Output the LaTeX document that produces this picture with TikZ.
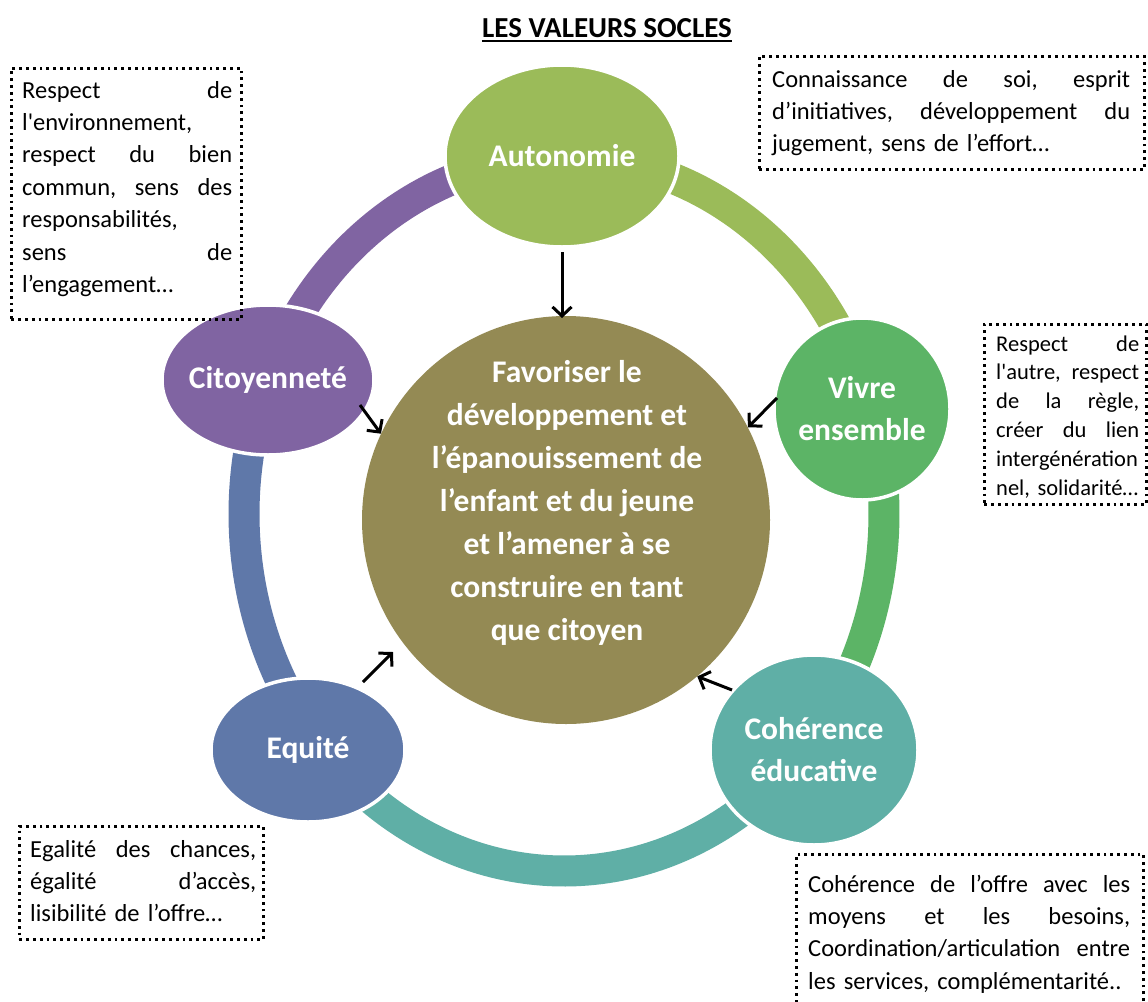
\documentclass[tikz,border=0pt]{standalone}
\usepackage{fontspec}
\setmainfont{Carlito}
\usetikzlibrary{shapes.geometric,arrows.meta,calc}
\definecolor{autoC}{HTML}{9BBB59}
\definecolor{vivC}{HTML}{5CB466}
\definecolor{cohC}{HTML}{5FAFA6}
\definecolor{equC}{HTML}{5F78A9}
\definecolor{citC}{HTML}{8064A2}
\definecolor{cenC}{HTML}{948A54}
\newcommand\jline[2]{\leavevmode\hbox to #1{#2}}
\begin{document}
\begin{tikzpicture}[x=1pt,y=1pt,
  ringseg/.style={line width=31pt},
  sat/.style={ellipse, draw=white, line width=3.5pt, inner sep=0pt},
  satlabel/.style={text=white, font=\fontsize{31.5}{42}\selectfont\bfseries, align=center, inner sep=0pt},
  infobox/.style={draw=black, line width=2.8pt, dash pattern=on 2.8pt off 4pt, rectangle, inner sep=0pt},
  boxtext/.style={font=\fontsize{24.5}{32.4}\selectfont, align=left, inner sep=0pt, anchor=base west},
  smalltext/.style={font=\fontsize{22.5}{28.8}\selectfont, align=left, inner sep=0pt, anchor=base west},
  arr/.style={line width=3pt, -{Straight Barb[length=9pt,width=19pt]}}
]
\useasboundingbox (0,0) rectangle (1148,-1001);
\fill[white] (0,0) rectangle (1148,-1001);

% title
\node[inner sep=0pt, anchor=base, font=\fontsize{29}{34}\selectfont\bfseries] (title) at (607,-37) {LES VALEURS SOCLES};
\draw[line width=2pt] ([yshift=-4pt]title.base west) -- ([yshift=-4pt]title.base east);

% ring
\coordinate (rc) at (564,-514);
\draw[ringseg, citC] (rc) ++(157.9:320 and 357) arc[start angle=157.9, end angle=90, x radius=320, y radius=357];
\draw[ringseg, autoC] (rc) ++(90:320 and 357) arc[start angle=90, end angle=17.5, x radius=320, y radius=357];
\draw[ringseg, vivC] (rc) ++(17.5:320 and 357) arc[start angle=17.5, end angle=-40.2, x radius=320, y radius=357];
\draw[ringseg, cohC] (rc) ++(-40.2:320 and 357) arc[start angle=-40.2, end angle=-140.4, x radius=320, y radius=357];
\draw[ringseg, equC] (rc) ++(-140.4:320 and 357) arc[start angle=-140.4, end angle=-202.1, x radius=320, y radius=357];

% satellites
\node[sat, fill=autoC, minimum width=234pt, minimum height=182pt] (auto) at (562,-156) {};
\node[satlabel] (autoL) at (auto) {Autonomie};
\node[sat, fill=vivC, minimum width=176pt, minimum height=182pt] (viv) at (862,-409) {};
\node[satlabel] (vivL) at (viv) {Vivre\\ensemble};
\node[sat, fill=cohC, minimum width=208pt, minimum height=190pt] (coh) at (814,-750) {};
\node[satlabel] (cohL) at (coh) {Cohérence\\éducative};
\node[sat, fill=equC, minimum width=194pt, minimum height=144pt] (equ) at (308,-750) {};
\node[satlabel] (equL) at (equ) {Equité};
\node[sat, fill=citC, minimum width=212pt, minimum height=150pt] (cit) at (268,-380) {};
\node[satlabel] (citL) at (cit) {Citoyenneté};

% centre
\node[circle, fill=cenC, minimum size=408pt, inner sep=0pt] (cen) at (566,-520) {};
\node[satlabel, font=\fontsize{31.5}{43}\selectfont\bfseries] (cenL) at (567,-503) {Favoriser le\\développement et\\l’épanouissement de\\l’enfant et du jeune\\et l’amener à se\\construire en tant\\que citoyen};

% arrows
\coordinate (autoT) at (562,-252);
\coordinate (autoH) at (562,-318);
\coordinate (citT) at (360,-405);
\coordinate (vivT) at (777,-398);
\coordinate (equT) at (363,-682);
\coordinate (equH) at (393,-652);
\coordinate (cohT) at (732,-690);
\draw[arr] (autoT) -- (autoH);
\draw[arr] (citT) -- (cen.155);
\draw[arr] (vivT) -- (cen.27);
\draw[arr] (equT) -- (equH);
\draw[arr] (cohT) -- (cen.310);

% info boxes
\node[infobox, anchor=north west, minimum width=230pt, minimum height=251pt] (b1) at (10,-67) {};
\node[boxtext, text width=210pt] (t1) at (22,-98) {\jline{210pt}{Respect\hfill de}\\l\textquotesingle environnement,\\\jline{210pt}{respect\hfill du\hfill bien}\\\jline{210pt}{commun,\hfill sens\hfill des}\\responsabilités,\\\jline{210pt}{sens\hfill de}\\l’engagement…};

\node[infobox, anchor=north west, minimum width=385pt, minimum height=113pt] (b2) at (758,-55) {};
\node[boxtext, text width=358pt] (t2) at (772,-87) {\jline{358pt}{Connaissance\hfill de\hfill soi,\hfill esprit}\\\jline{358pt}{d’initiatives,\hfill développement\hfill du}\\jugement, sens de l’effort…};

\node[infobox, anchor=north west, minimum width=162pt, minimum height=180pt] (b3) at (983,-323) {};
\node[smalltext, text width=143pt] (t3) at (996,-351) {\jline{143pt}{Respect\hfill de}\\\jline{143pt}{l\textquotesingle autre,\hfill respect}\\\jline{143pt}{de\hfill la\hfill règle,}\\\jline{143pt}{créer\hfill du\hfill lien}\\intergénération\\nel, solidarité…};

\node[infobox, anchor=north west, minimum width=244pt, minimum height=113pt] (b4) at (18,-825) {};
\node[boxtext, text width=226pt] (t4) at (30,-857) {\jline{226pt}{Egalité\hfill des\hfill chances,}\\\jline{226pt}{égalité\hfill d’accès,}\\lisibilité de l’offre…};

\node[infobox, anchor=north west, minimum width=347pt, minimum height=160pt] (b5) at (795,-853) {};
\node[boxtext, text width=322pt] (t5) at (808,-892) {\jline{322pt}{Cohérence\hfill de\hfill l’offre\hfill avec\hfill les}\\\jline{322pt}{moyens\hfill et\hfill les\hfill besoins,}\\\jline{322pt}{Coordination/articulation\hfill entre}\\les services, complémentarité..};
\end{tikzpicture}
\end{document}
